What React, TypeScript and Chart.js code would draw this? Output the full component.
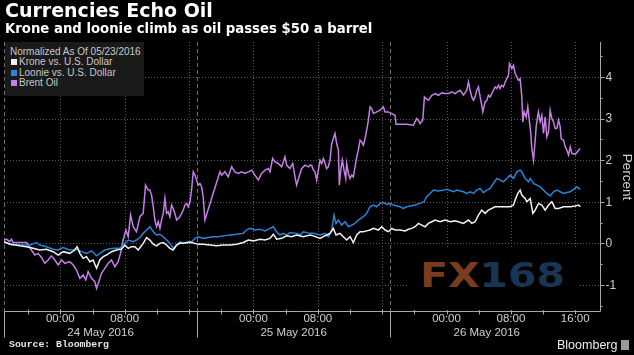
import React, { useEffect, useRef } from 'react';
import { Chart, registerables } from 'chart.js';

Chart.register(...registerables);

// ---- Data (hours since 24 May 2016 00:00, percent change normalized as of 05/23/2016) ----
const brentHours = [
  -7.0, -6.7, -6.28, -6.07, -5.87, -5.04, -4.21, -4.0, -3.59, -3.17, -2.76, -2.34, -1.93, -1.51, -1.1, -0.68, -0.27,
  0.15, 0.56, 1.18, 1.6, 2.01, 2.43, 2.84, 3.17, 3.46, 3.88, 4.29, 4.5, 4.79, 5.12, 5.53, 5.95, 6.36, 6.78, 7.19,
  7.48, 7.81, 8.15, 8.44, 8.73, 9.06, 9.47, 9.89, 10.3, 10.59, 10.92, 11.13, 11.34, 11.55, 11.75, 11.96, 12.17,
  12.38, 12.58, 12.79, 13.0, 13.21, 13.41, 13.62, 13.83, 14.03, 14.24, 14.45, 14.86, 15.28, 15.49, 15.69, 15.9,
  16.11, 16.31, 16.52, 16.73, 16.94, 17.14, 17.35, 17.56, 17.76, 17.97, 19.84, 20.05, 20.46, 20.87, 21.29, 21.7,
  22.12, 22.53, 22.95, 23.36, 23.78, 24.19, 24.61, 25.02, 25.44, 25.85, 26.06, 26.39, 26.68, 27.09, 27.51, 27.92,
  28.13, 28.54, 28.88, 29.17, 29.37, 29.79, 30.0, 30.41, 30.83, 31.03, 31.24, 31.45, 31.65, 31.86, 32.07, 32.28,
  32.48, 32.69, 32.9, 33.11, 33.31, 33.52, 33.73, 33.93, 34.14, 34.35, 34.56, 34.68, 34.85, 35.05, 35.26, 35.47,
  35.59, 35.8, 36.01, 36.22, 36.42, 36.63, 36.84, 37.04, 37.25, 37.46, 37.67, 37.87, 38.08, 38.29, 38.49, 38.7,
  38.91, 39.32, 39.74, 40.15, 40.36, 40.77, 41.19, 41.6, 41.73, 42.23, 43.06, 43.88, 44.09, 44.3, 44.51, 44.71,
  45.05, 45.25, 45.46, 45.75, 46.17, 46.58, 46.99, 47.41, 47.82, 48.24, 48.65, 49.07, 49.48, 49.69, 50.1, 50.52,
  50.73, 50.93, 51.14, 51.35, 51.55, 51.76, 51.97, 52.18, 52.38, 52.51, 52.8, 53.01, 53.21, 53.42, 53.63, 53.83,
  54.04, 54.25, 54.46, 54.66, 54.87, 55.08, 55.29, 55.49, 55.7, 55.82, 56.12, 56.32, 56.53, 56.74, 56.94, 57.15,
  57.36, 57.48, 57.65, 57.9, 58.1, 58.31, 58.48, 58.6, 58.81, 59.02, 59.14, 59.31, 59.43, 59.64, 59.85, 60.05,
  60.26, 60.47, 60.68, 60.88, 61.09, 61.3, 61.5, 61.71, 61.92, 62.13, 62.25, 62.54, 62.75, 62.96, 63.17, 63.37,
  63.58, 64.0, 64.41, 64.62,
];
const brentValues = [
  0.08, 0.1, 0.04, 0.1, 0.02, 0.02, 0.02, -0.04, -0.16, -0.28, -0.24, -0.34, -0.48, -0.4, -0.3, -0.4, -0.52,
  -0.4, -0.48, -0.44, -0.52, -0.64, -0.84, -0.76, -0.88, -0.68, -0.84, -0.92, -1.08, -0.92, -0.72, -0.6, -0.48, -0.4, -0.56, -0.44,
  -0.24, 0.08, 0.32, 0.16, 0.68, 0.4, 0.28, 0.64, 0.72, 1.4, 1.28, 1.28, 1.16, 0.88, 0.56, 0.4, 0.52,
  0.36, 0.56, 0.72, 1.08, 0.72, 0.76, 0.64, 0.92, 0.84, 0.72, 0.56, 0.64, 0.8, 0.92, 0.96, 0.88,
  1.0, 1.28, 1.72, 1.64, 1.52, 1.4, 1.44, 1.36, 1.12, 0.56, 1.72, 1.64, 1.72, 1.6, 1.84, 1.72,
  1.68, 1.72, 1.68, 1.72, 1.76, 1.64, 1.52, 1.68, 1.76, 1.8, 1.72, 2.04, 1.96, 1.92, 1.84, 2.08,
  1.88, 1.8, 1.92, 1.6, 1.4, 1.68, 1.8, 1.88, 1.84, 1.88, 1.88, 1.76, 1.72, 1.52, 1.76, 2.0,
  1.92, 2.04, 1.92, 1.8, 1.84, 2.0, 2.4, 2.52, 2.64, 2.4, 2.24, 1.4, 1.76, 2.0, 1.76, 1.56,
  1.92, 1.68, 1.56, 1.64, 1.6, 1.84, 2.08, 2.24, 2.48, 2.44, 2.36, 2.52, 2.72, 2.96, 3.28, 3.24,
  3.12, 3.16, 3.2, 3.28, 3.16, 3.16, 3.12, 3.08, 2.86, 2.86, 2.86, 2.84, 2.92, 3.0, 2.96, 2.88,
  2.96, 3.52, 3.48, 3.44, 3.56, 3.6, 3.56, 3.62, 3.6, 3.6, 3.64, 3.6, 3.66, 3.68, 3.56, 3.68,
  3.88, 3.68, 3.52, 3.44, 3.52, 3.68, 3.76, 3.52, 3.32, 3.16, 3.4, 3.44, 3.56, 3.52, 3.6, 3.68,
  3.76, 3.72, 3.8, 3.72, 3.8, 3.76, 3.88, 3.96, 4.04, 4.32, 4.2, 4.28, 4.08, 4.0, 3.92, 3.96,
  3.52, 2.92, 3.16, 3.04, 3.28, 2.92, 2.64, 2.28, 2.0, 2.48, 2.8, 3.04, 3.16, 2.92, 3.08, 2.64,
  3.04, 2.56, 2.68, 3.2, 3.0, 2.92, 2.76, 2.76, 2.96, 2.8, 2.52, 2.48, 2.32, 2.24, 2.12, 2.32,
  2.16, 2.14, 2.24, 2.28,
];

const loonieHours = [
  -7.0, -5.87, -4.62, -3.79, -2.96, -2.55, -1.72, -0.89, -0.27, 0.35, 1.18, 2.01, 2.63, 3.25, 3.88, 4.5, 4.91,
  5.53, 6.16, 6.78, 7.4, 7.81, 8.44, 9.06, 9.47, 9.89, 10.3, 10.72, 11.13, 11.55, 11.96, 12.38, 12.79, 13.21,
  13.62, 14.03, 14.45, 14.86, 15.28, 15.9, 16.31, 16.73, 17.14, 17.76, 18.39, 19.01, 19.63, 20.25, 21.08, 21.91,
  22.74, 23.15, 23.57, 24.19, 24.81, 25.44, 26.06, 26.47, 26.89, 27.3, 27.71, 28.13, 28.54, 29.37, 29.79, 30.2,
  31.03, 31.45, 32.28, 32.9, 33.31, 33.73, 34.02, 34.27, 34.56, 34.97, 35.39, 35.8, 36.22, 36.63, 37.04, 37.67,
  38.08, 38.49, 38.91, 39.32, 39.74, 40.15, 40.57, 40.98, 41.4, 41.81, 42.23, 42.64, 43.06, 43.47, 44.09, 44.71,
  45.21, 45.54, 45.96, 46.37, 46.99, 47.62, 48.03, 48.86, 49.27, 49.69, 50.1, 50.52, 50.93, 51.35, 51.76, 52.18,
  52.59, 53.01, 53.42, 53.83, 54.25, 54.66, 55.08, 55.49, 55.91, 56.32, 56.74, 57.15, 57.36, 57.77, 58.19, 58.4,
  58.81, 59.23, 59.64, 60.05, 60.47, 60.88, 61.3, 61.71, 62.13, 62.54, 62.96, 63.37, 63.79, 64.2, 64.62,
];
const loonieValues = [
  0.02, -0.02, -0.04, -0.04, 0.02, -0.04, -0.08, -0.14, -0.16, -0.1, -0.16, -0.14, -0.2, -0.24, -0.18, -0.3, -0.24,
  -0.16, -0.13, -0.12, -0.12, -0.04, 0.08, 0.04, 0.08, 0.14, 0.24, 0.32, 0.4, 0.28, 0.2, 0.22, 0.16, 0.08,
  0.0, -0.12, -0.04, 0.04, 0.0, 0.04, 0.04, 0.12, 0.16, 0.12, 0.14, 0.16, 0.16, 0.18, 0.2, 0.22,
  0.24, 0.32, 0.36, 0.32, 0.34, 0.3, 0.36, 0.4, 0.28, 0.2, 0.24, 0.2, 0.26, 0.24, 0.2, 0.28,
  0.24, 0.24, 0.2, 0.24, 0.16, 0.32, 0.68, 0.48, 0.56, 0.44, 0.52, 0.4, 0.44, 0.48, 0.56, 0.64,
  0.72, 0.88, 0.92, 0.88, 0.96, 0.98, 0.94, 0.96, 0.92, 0.9, 0.88, 0.84, 0.88, 0.9, 0.92, 0.96,
  1.0, 1.12, 1.2, 1.28, 1.26, 1.28, 1.3, 1.24, 1.28, 1.26, 1.24, 1.2, 1.24, 1.2, 1.28, 1.32,
  1.22, 1.28, 1.32, 1.44, 1.56, 1.52, 1.48, 1.56, 1.64, 1.56, 1.72, 1.76, 1.72, 1.56, 1.48, 1.56,
  1.44, 1.4, 1.36, 1.28, 1.2, 1.14, 1.24, 1.28, 1.24, 1.2, 1.22, 1.24, 1.3, 1.36, 1.3,
];

const kroneHours = [
  -7.0, -6.28, -5.04, -4.21, -3.38, -2.55, -1.72, -0.89, -0.27, 0.35, 1.18, 1.8, 2.09, 2.43, 2.84, 3.25, 3.67,
  4.08, 4.5, 4.91, 5.33, 5.74, 6.36, 6.99, 7.61, 8.02, 8.44, 8.85, 9.27, 9.68, 10.3, 10.72, 11.13, 11.55, 11.96,
  12.38, 12.79, 13.21, 13.62, 14.03, 14.45, 14.86, 15.28, 15.9, 16.31, 16.73, 17.14, 17.76, 18.6, 19.42, 20.25,
  21.08, 21.91, 22.74, 23.36, 23.98, 24.81, 25.44, 26.06, 26.47, 26.89, 27.51, 28.13, 28.75, 29.37, 30.2, 31.03,
  31.45, 32.28, 32.69, 33.11, 33.52, 33.93, 34.27, 34.76, 35.18, 35.59, 36.01, 36.42, 36.84, 37.25, 37.67, 38.08,
  38.49, 38.91, 39.53, 39.95, 40.36, 40.77, 41.19, 41.6, 42.23, 42.85, 43.26, 43.68, 44.09, 44.51, 44.92, 45.34,
  45.75, 46.17, 46.58, 47.2, 47.82, 48.45, 49.07, 50.1, 50.73, 51.14, 51.55, 51.97, 52.38, 52.8, 53.21, 53.63,
  54.04, 54.66, 55.29, 55.91, 56.32, 56.53, 56.86, 57.15, 57.36, 57.77, 57.98, 58.4, 58.73, 59.02, 59.43, 59.85,
  60.26, 60.68, 61.09, 61.5, 61.92, 62.54, 63.37, 64.0, 64.41, 64.62,
];
const kroneValues = [
  0.04, -0.02, -0.06, -0.08, -0.12, -0.16, -0.14, -0.2, -0.28, -0.2, -0.24, -0.16, -0.08, -0.24, -0.36, -0.32, -0.44,
  -0.4, -0.6, -0.4, -0.32, -0.28, -0.2, -0.16, -0.14, -0.04, -0.12, -0.08, -0.08, -0.16, 0.0, 0.14, 0.08, -0.02, -0.06,
  0.0, 0.02, -0.04, -0.12, -0.16, -0.04, 0.0, 0.0, 0.02, 0.02, 0.0, -0.02, -0.02, -0.04, -0.06, -0.04,
  -0.04, -0.02, 0.02, 0.08, 0.06, 0.1, 0.08, 0.12, 0.22, 0.1, 0.12, 0.18, 0.16, 0.2, 0.16, 0.2,
  0.18, 0.12, 0.16, 0.2, 0.24, 0.36, 0.2, 0.24, 0.16, 0.08, 0.16, 0.02, 0.2, 0.28, 0.28, 0.3,
  0.32, 0.36, 0.32, 0.4, 0.32, 0.28, 0.36, 0.32, 0.32, 0.3, 0.34, 0.36, 0.4, 0.48, 0.44, 0.4,
  0.48, 0.52, 0.56, 0.52, 0.56, 0.52, 0.54, 0.48, 0.56, 0.48, 0.52, 0.68, 0.8, 0.72, 0.8, 0.84,
  0.88, 0.88, 0.88, 0.88, 0.92, 1.04, 1.2, 1.28, 1.16, 1.08, 1.0, 1.08, 0.72, 0.8, 0.96, 0.92,
  0.8, 0.92, 1.0, 0.84, 0.84, 0.88, 0.88, 0.9, 0.92, 0.88,
];

// ---- Axis configuration ----
const xMin = -7; // 23 May 17:00
const xMax = 67.2;
const yMin = -1.65;
const yMax = 4.84;
const yTickValues = [-1, 0, 1, 2, 3, 4];
const yTickLabels = ['-1', '0', '1', '2', '3', '4'];
const yMinorTicks = [-1.5, -0.5, 0.5, 1.5, 2.5, 3.5, 4.5];
const xGridHours = [0, 8, 16, 24, 32, 40, 48, 56, 64];
const xMinorTickHours = [-4, 0, 4, 8, 12, 16, 20, 24, 28, 32, 36, 40, 44, 48, 52, 56, 60, 64];
const xTickHours = [0, 8, 24, 32, 48, 56, 64];
const xTickLabels = ['00:00', '08:00', '00:00', '08:00', '00:00', '08:00', '16:00'];
const sessionBreaks = [-7, 17, 41];
const dayLabels = ['24 May 2016', '25 May 2016', '26 May 2016'];
const dayCenters = [5, 29, 53];

const seriesNames = ['Krone vs. U.S. Dollar', 'Loonie vs. U.S. Dollar', 'Brent Oil'];
const seriesColors = ['#f2f2f2', '#2784d8', '#c47ee6'];

const axesPlugin = {
  id: 'bbgAxes',
  beforeDatasetsDraw(chart: any) {
    const { ctx, chartArea: a, scales } = chart;
    const x = scales.x;
    const y = scales.y;
    ctx.save();
    ctx.lineWidth = 1;
    // horizontal dotted grid
    ctx.strokeStyle = '#5c5c5c';
    ctx.setLineDash([1, 2]);
    for (const v of yTickValues) {
      const py = Math.round(y.getPixelForValue(v)) + 0.5;
      ctx.beginPath();
      ctx.moveTo(a.left, py);
      ctx.lineTo(a.right, py);
      ctx.stroke();
    }
    // vertical dotted grid
    for (const h of xGridHours) {
      const px = Math.round(x.getPixelForValue(h)) + 0.5;
      ctx.beginPath();
      ctx.moveTo(px, a.top);
      ctx.lineTo(px, a.bottom);
      ctx.stroke();
    }
    // session dashed lines
    ctx.strokeStyle = '#6e6e6e';
    ctx.setLineDash([4, 3]);
    for (const h of sessionBreaks) {
      const px = Math.round(x.getPixelForValue(h)) + 0.5;
      ctx.beginPath();
      ctx.moveTo(px, a.top);
      ctx.lineTo(px, a.bottom);
      ctx.stroke();
    }
    ctx.setLineDash([]);
    // axes lines
    ctx.strokeStyle = '#a8a8a8';
    const by = Math.round(a.bottom) - 0.5;
    const rx = Math.round(a.right) - 0.5;
    ctx.beginPath();
    ctx.moveTo(a.left, by);
    ctx.lineTo(rx, by);
    ctx.moveTo(rx, a.top);
    ctx.lineTo(rx, by);
    ctx.stroke();
    // x minor ticks
    ctx.beginPath();
    for (const h of xMinorTickHours) {
      const px = Math.round(x.getPixelForValue(h)) + 0.5;
      ctx.moveTo(px, by - 2);
      ctx.lineTo(px, by + 3);
    }
    // session dividers below axis
    for (const h of sessionBreaks) {
      const px = Math.round(x.getPixelForValue(h)) + 0.5;
      ctx.moveTo(px, by);
      ctx.lineTo(px, by + 26);
    }
    // y ticks
    for (const v of yTickValues) {
      const py = Math.round(y.getPixelForValue(v)) + 0.5;
      ctx.moveTo(rx, py);
      ctx.lineTo(rx + 4, py);
    }
    for (const v of yMinorTicks) {
      const py = Math.round(y.getPixelForValue(v)) + 0.5;
      ctx.moveTo(rx, py);
      ctx.lineTo(rx + 2, py);
    }
    ctx.stroke();

    // labels
    ctx.fillStyle = '#cfcfcf';
    ctx.font = '11.5px "Liberation Sans", Arial, sans-serif';
    ctx.textAlign = 'center';
    ctx.textBaseline = 'middle';
    xTickHours.forEach((h, i) => {
      ctx.fillText(xTickLabels[i], x.getPixelForValue(h), by + 7.5);
    });
    dayLabels.forEach((t, i) => {
      ctx.fillText(t, x.getPixelForValue(dayCenters[i]), by + 21);
    });
    ctx.font = '12px "Liberation Sans", Arial, sans-serif';
    ctx.textAlign = 'left';
    yTickValues.forEach((v, i) => {
      ctx.fillText(yTickLabels[i], rx + 5, y.getPixelForValue(v) + 0.5);
    });
    ctx.font = '13.5px "Liberation Sans", Arial, sans-serif';
    ctx.textAlign = 'center';
    ctx.translate(627, 177);
    ctx.rotate(Math.PI / 2);
    ctx.fillText('Percent', 0, 0);
    ctx.restore();
  },
};

export default function App() {
  const canvasRef = useRef<HTMLCanvasElement | null>(null);

  useEffect(() => {
    const canvas = canvasRef.current;
    if (!canvas) return;
    const mk = (hours: number[], values: number[]) => hours.map((h, i) => ({ x: h, y: values[i] }));
    const chart = new Chart(canvas, {
      type: 'line',
      data: {
        datasets: [
          { label: seriesNames[0], data: mk(kroneHours, kroneValues), borderColor: seriesColors[0], borderWidth: 1.5, pointRadius: 0, tension: 0 },
          { label: seriesNames[1], data: mk(loonieHours, loonieValues), borderColor: seriesColors[1], borderWidth: 1.5, pointRadius: 0, tension: 0 },
          { label: seriesNames[2], data: mk(brentHours, brentValues), borderColor: seriesColors[2], borderWidth: 1.5, pointRadius: 0, tension: 0 },
        ],
      },
      options: {
        responsive: false,
        animation: false,
        devicePixelRatio: 1,
        events: [],
        layout: { padding: { left: 4, right: 33, top: 42, bottom: 43 } },
        scales: {
          x: { type: 'linear', min: xMin, max: xMax, display: false },
          y: { type: 'linear', min: yMin, max: yMax, display: false },
        },
        plugins: { legend: { display: false }, tooltip: { enabled: false }, title: { display: false } },
      },
      plugins: [axesPlugin],
    } as any);
    return () => chart.destroy();
  }, []);

  const legendItemTops = [57.3, 67.7, 78.3];

  return (
    <div style={{ position: 'fixed', left: 0, top: 0, width: 634, height: 355, background: '#000', overflow: 'hidden' }}>
      <canvas ref={canvasRef} width={634} height={355} style={{ position: 'absolute', left: 0, top: 0, width: 634, height: 355 }} />
      <div style={{ position: 'absolute', left: 5, top: 1, font: 'bold 19px "DejaVu Sans", sans-serif', lineHeight: '19px', color: '#ffffff', whiteSpace: 'nowrap' }}>
        Currencies Echo Oil
      </div>
      <div style={{ position: 'absolute', left: 5, top: 22.4, font: 'bold 13.25px "DejaVu Sans", sans-serif', lineHeight: '13.25px', color: '#ffffff', whiteSpace: 'nowrap' }}>
        Krone and loonie climb as oil passes $50 a barrel
      </div>
      <div style={{ position: 'absolute', left: 5, top: 42, width: 139, height: 54, background: '#1a1a1a' }} />
      <div style={{ position: 'absolute', left: 10, top: 47, font: '10px "Liberation Sans", Arial, sans-serif', lineHeight: '10px', color: '#c8c8c8', whiteSpace: 'nowrap' }}>
        Normalized As Of 05/23/2016
      </div>
      {seriesNames.map((n, i) => (
        <React.Fragment key={n}>
          <div style={{ position: 'absolute', left: 11, top: legendItemTops[i] + 2, width: 6, height: 6, background: seriesColors[i] }} />
          <div style={{ position: 'absolute', left: 19, top: legendItemTops[i], font: '10px "Liberation Sans", Arial, sans-serif', lineHeight: '10px', color: '#c8c8c8', whiteSpace: 'nowrap' }}>
            {n}
          </div>
        </React.Fragment>
      ))}
      <div style={{ position: 'absolute', left: 407, top: 249, width: 172, height: 61, background: '#000' }}>
        <div style={{ position: 'absolute', left: 13, top: 10, font: 'bold 33px "DejaVu Sans", sans-serif', lineHeight: '33px', whiteSpace: 'nowrap', transform: 'scaleX(1.24)', transformOrigin: 'left center' }}>
          <span style={{ color: '#7a3c1c' }}>FX</span>
          <span style={{ color: '#183553' }}>168</span>
        </div>
      </div>
      <div style={{ position: 'absolute', left: 9, top: 340, font: 'bold 9.8px "Liberation Mono", "DejaVu Sans Mono", monospace', lineHeight: '10px', color: '#e6e6e6', whiteSpace: 'nowrap' }}>
        Source: Bloomberg
      </div>
      <div style={{ position: 'absolute', left: 557, top: 338.7, font: '12.5px "Liberation Sans", Arial, sans-serif', lineHeight: '12.5px', color: '#ececec', whiteSpace: 'nowrap' }}>
        Bloomberg
      </div>
      <div style={{ position: 'absolute', left: 621, top: 340, width: 8, height: 10, background: '#9a9a9a' }} />
    </div>
  );
}
